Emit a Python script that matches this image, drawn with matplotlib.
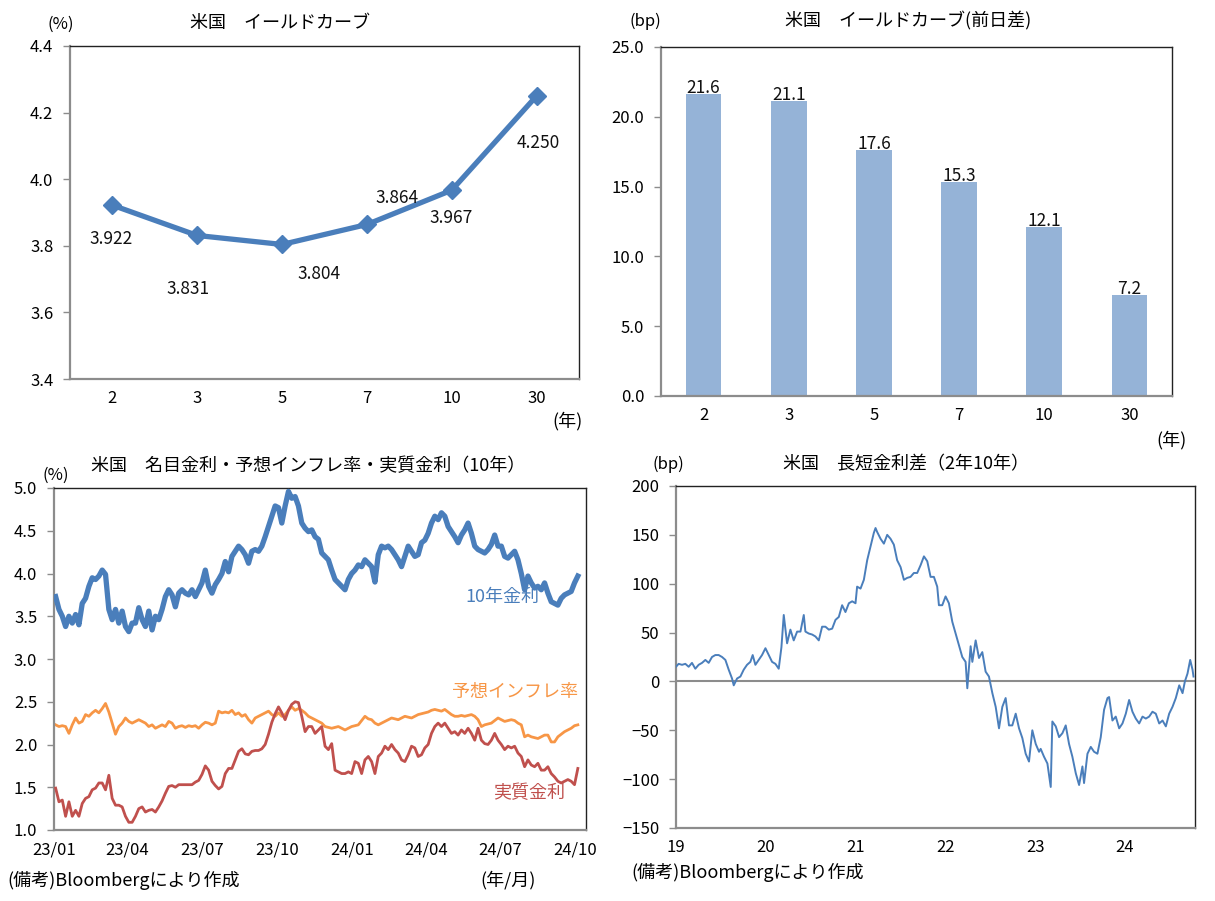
import numpy as np
import pandas as pd
import matplotlib
matplotlib.use("Agg")
import matplotlib.pyplot as plt
from matplotlib.ticker import FormatStrFormatter, MultipleLocator

plt.rcParams['font.family'] = ['Noto Sans CJK JP', 'DejaVu Sans']

# ---------------- data ----------------
maturities = ['2', '3', '5', '7', '10', '30']
yields = [3.922, 3.831, 3.804, 3.864, 3.967, 4.250]
yield_labels = ['3.922', '3.831', '3.804', '3.864', '3.967', '4.250']
daily_change = [21.6, 21.1, 17.6, 15.3, 12.1, 7.2]

rate_start = '2023-01-03'
rate_end = '2024-10-04'
nominal_10y = [
    3.73, 3.58, 3.50, 3.38, 3.50, 3.42, 3.52, 3.40, 3.65, 3.71,
    3.85, 3.95, 3.93, 3.97, 4.04, 3.99, 3.58, 3.46, 3.58, 3.42,
    3.56, 3.38, 3.32, 3.42, 3.42, 3.60, 3.46, 3.38, 3.56, 3.34,
    3.50, 3.46, 3.58, 3.73, 3.81, 3.75, 3.61, 3.77, 3.81, 3.77,
    3.75, 3.81, 3.73, 3.81, 3.89, 4.04, 3.85, 3.77, 3.87, 3.93,
    4.00, 4.14, 4.02, 4.20, 4.26, 4.32, 4.28, 4.22, 4.12, 4.26,
    4.28, 4.26, 4.32, 4.43, 4.55, 4.67, 4.79, 4.77, 4.59, 4.79,
    4.96, 4.88, 4.90, 4.79, 4.59, 4.53, 4.49, 4.51, 4.43, 4.40,
    4.24,
    4.20, 4.16, 4.04, 3.93, 3.89, 3.85, 3.81, 3.93, 4.00, 4.04,
    4.10, 4.08, 4.16, 4.12, 4.08, 3.90, 4.22, 4.32, 4.30, 4.32,
    4.28, 4.22, 4.16, 4.08, 4.20, 4.32, 4.26, 4.20, 4.22, 4.36,
    4.39, 4.47, 4.59, 4.67, 4.63, 4.71, 4.67, 4.55, 4.49, 4.43,
    4.36, 4.45, 4.51, 4.59, 4.47, 4.32, 4.28, 4.26, 4.24, 4.28,
    4.34, 4.45, 4.32, 4.32, 4.20, 4.18, 4.22, 4.26, 4.16, 4.00,
    3.81, 3.97, 3.89, 3.83, 3.85, 3.81, 3.89, 3.77, 3.67, 3.65,
    3.63, 3.71, 3.75, 3.77, 3.79, 3.89, 3.97,
]
breakeven = [
    2.23, 2.21, 2.22, 2.21, 2.13, 2.23, 2.31, 2.25, 2.27, 2.35,
    2.33, 2.37, 2.40, 2.37, 2.42, 2.48, 2.38, 2.25, 2.12, 2.21,
    2.25, 2.31, 2.27, 2.25, 2.27, 2.29, 2.27, 2.25, 2.21, 2.23,
    2.19, 2.21, 2.23, 2.21, 2.27, 2.25, 2.19, 2.21, 2.22, 2.20,
    2.22, 2.21, 2.22, 2.19, 2.23, 2.26, 2.25, 2.23, 2.25, 2.39,
    2.37, 2.38, 2.37, 2.40, 2.35, 2.37, 2.33, 2.35, 2.29, 2.25,
    2.31, 2.33, 2.35, 2.37, 2.39, 2.35, 2.33, 2.37, 2.33, 2.35,
    2.40, 2.44, 2.40, 2.42, 2.40, 2.37, 2.33, 2.31, 2.29, 2.27,
    2.25,
    2.21, 2.20, 2.19, 2.20, 2.21, 2.19, 2.17, 2.19, 2.21, 2.22,
    2.23, 2.28, 2.33, 2.30, 2.29, 2.25, 2.23, 2.25, 2.27, 2.29,
    2.31, 2.30, 2.29, 2.31, 2.33, 2.32, 2.31, 2.33, 2.35, 2.36,
    2.37, 2.38, 2.40, 2.41, 2.40, 2.39, 2.41, 2.38, 2.35, 2.33,
    2.33, 2.34, 2.33, 2.34, 2.35, 2.33, 2.29, 2.21, 2.23, 2.24,
    2.25, 2.28, 2.31, 2.29, 2.27, 2.28, 2.29, 2.28, 2.25, 2.23,
    2.09, 2.11, 2.09, 2.08, 2.07, 2.09, 2.11, 2.11, 2.03, 2.03,
    2.09, 2.12, 2.15, 2.17, 2.19, 2.22, 2.23,
]
real_rate = [
    1.49, 1.33, 1.35, 1.16, 1.33, 1.16, 1.23, 1.16, 1.31, 1.37,
    1.39, 1.47, 1.49, 1.55, 1.55, 1.47, 1.64, 1.37, 1.29, 1.29,
    1.27, 1.16, 1.09, 1.09, 1.16, 1.25, 1.27, 1.21, 1.23, 1.24,
    1.21, 1.27, 1.34, 1.43, 1.51, 1.52, 1.50, 1.53, 1.53, 1.53,
    1.53, 1.53, 1.56, 1.58, 1.65, 1.75, 1.70, 1.57, 1.52, 1.48,
    1.51, 1.66, 1.72, 1.72, 1.82, 1.92, 1.95, 1.89, 1.88, 1.92,
    1.93, 1.93, 1.95, 2.00, 2.12, 2.26, 2.36, 2.44, 2.37, 2.29,
    2.40, 2.47, 2.50, 2.49, 2.33, 2.15, 2.21, 2.21, 2.13, 2.17,
    2.21,
    1.98, 1.94, 2.01, 1.70, 1.68, 1.66, 1.66, 1.68, 1.66, 1.80,
    1.78, 1.66, 1.82, 1.86, 1.80, 1.66, 1.86, 1.90, 1.98, 1.94,
    2.00, 1.94, 1.90, 1.82, 1.80, 1.88, 1.98, 1.96, 1.86, 1.88,
    1.96, 2.00, 2.13, 2.21, 2.25, 2.21, 2.25, 2.19, 2.13, 2.15,
    2.11, 2.17, 2.13, 2.19, 2.13, 2.05, 2.19, 2.05, 2.01, 2.00,
    2.05, 2.13, 2.05, 2.00, 1.94, 1.98, 1.96, 1.98, 1.90, 1.86,
    1.74, 1.82, 1.76, 1.74, 1.78, 1.70, 1.70, 1.74, 1.66, 1.62,
    1.57, 1.55, 1.57, 1.59, 1.57, 1.53, 1.72,
]

spread_time = [
    2019.000, 2019.029, 2019.067, 2019.104, 2019.141, 2019.178, 2019.215, 2019.252,
    2019.290, 2019.327, 2019.364, 2019.401, 2019.438, 2019.475, 2019.513, 2019.550,
    2019.587, 2019.624, 2019.643, 2019.680, 2019.717, 2019.754, 2019.791, 2019.828,
    2019.854, 2019.884, 2019.921, 2019.958, 2019.996, 2020.033, 2020.070, 2020.107,
    2020.144, 2020.174, 2020.200, 2020.237, 2020.274, 2020.311, 2020.349, 2020.386,
    2020.423, 2020.441, 2020.479, 2020.516, 2020.553, 2020.590, 2020.627, 2020.664,
    2020.702, 2020.739, 2020.776, 2020.813, 2020.850, 2020.887, 2020.925, 2020.962,
    2020.999, 2021.017, 2021.055, 2021.092, 2021.129, 2021.166, 2021.203, 2021.222,
    2021.240, 2021.278, 2021.315, 2021.352, 2021.389, 2021.426, 2021.463, 2021.501,
    2021.538, 2021.575, 2021.612, 2021.649, 2021.686, 2021.724, 2021.761, 2021.798,
    2021.835, 2021.872, 2021.909, 2021.928, 2021.965, 2022.002, 2022.039, 2022.077,
    2022.114, 2022.151, 2022.188, 2022.225, 2022.244, 2022.281, 2022.300, 2022.337,
    2022.374, 2022.411, 2022.448, 2022.485, 2022.523, 2022.560, 2022.597, 2022.634,
    2022.671, 2022.708, 2022.745, 2022.783, 2022.820, 2022.857, 2022.894, 2022.931,
    2022.968, 2023.006, 2023.043, 2023.061, 2023.098, 2023.136, 2023.173, 2023.191,
    2023.229, 2023.266, 2023.303, 2023.340, 2023.377, 2023.414, 2023.452, 2023.489,
    2023.526, 2023.544, 2023.582, 2023.619, 2023.656, 2023.693, 2023.730, 2023.767,
    2023.805, 2023.823, 2023.860, 2023.897, 2023.935, 2023.972, 2024.009, 2024.046,
    2024.083, 2024.120, 2024.158, 2024.195, 2024.232, 2024.269, 2024.306, 2024.343,
    2024.381, 2024.418, 2024.455, 2024.492, 2024.529, 2024.566, 2024.604, 2024.641,
    2024.667, 2024.696, 2024.726, 2024.752, 2024.763,
]
spread_bp = [
    15, 18, 17, 18, 15, 19, 13, 17,
    19, 22, 19, 25, 27, 27, 25, 22,
    12, 3, -4, 3, 5, 12, 17, 20,
    27, 17, 22, 27, 34, 27, 20, 18,
    13, 35, 68, 39, 53, 42, 51, 51,
    68, 51, 49, 48, 46, 42, 56, 56,
    53, 54, 63, 66, 78, 71, 80, 82,
    80, 97, 95, 104, 124, 138, 152, 157,
    153, 146, 141, 150, 146, 140, 124, 117,
    104, 106, 107, 111, 111, 119, 128, 123,
    107, 107, 97, 78, 78, 87, 80, 61,
    49, 37, 25, 20, -7, 36, 20, 42,
    24, 30, 10, 5, -12, -26, -48, -26,
    -17, -45, -45, -33, -48, -58, -74, -82,
    -50, -64, -72, -69, -77, -84, -108, -41,
    -46, -57, -53, -45, -64, -77, -94, -106,
    -87, -104, -74, -67, -72, -74, -57, -29,
    -17, -16, -40, -36, -48, -43, -33, -19,
    -31, -38, -43, -36, -38, -36, -31, -33,
    -43, -40, -46, -33, -26, -17, -4, -12,
    0, 8, 22, 12, 5,
]

rate_month_ticks = ['23/01', '23/04', '23/07', '23/10', '24/01', '24/04', '24/07', '24/10']
spread_year_ticks = ['19', '20', '21', '22', '23', '24']

# ---------------- styling ----------------
W, H = 1215, 901
BLUE = '#4A7EBB'
BAR = '#95B3D7'
ORANGE = '#F79646'
RED = '#C0504D'
GREY = '#8C8C8C'
FS = 12      # numbers
FT = 13      # Japanese text

fig = plt.figure(figsize=(W / 100, H / 100), dpi=100)


def px_axes(l, t, r, b):
    return fig.add_axes([l / W, 1 - b / H, (r - l) / W, (b - t) / H])


def ftext(x, y, s, **kw):
    kw.setdefault('fontsize', FT)
    kw.setdefault('va', 'center')
    fig.text(x / W, 1 - y / H, s, **kw)


def style_frame(ax):
    for side in ('left', 'bottom'):
        ax.spines[side].set_color(GREY)
        ax.spines[side].set_linewidth(1.6)
    for side in ('top', 'right'):
        ax.spines[side].set_color('#222222')
        ax.spines[side].set_linewidth(1.0)
    ax.tick_params(axis='y', direction='out', length=5, width=1, color=GREY,
                   labelsize=FS, pad=7)
    ax.tick_params(axis='x', length=0, labelsize=FS, pad=8)


# ---- top-left: yield curve ----
ax1 = px_axes(70, 46, 579, 379)
xs = np.arange(len(maturities))
ax1.plot(xs, yields, color=BLUE, lw=3.8, marker='D', markersize=9,
         markerfacecolor=BLUE, markeredgecolor=BLUE, zorder=3)
ax1.set_xlim(-0.5, len(maturities) - 0.5)
ax1.set_ylim(3.4, 4.4)
ax1.yaxis.set_major_locator(MultipleLocator(0.2))
ax1.yaxis.set_major_formatter(FormatStrFormatter('%.1f'))
ax1.set_xticks(xs)
ax1.set_xticklabels(maturities)
style_frame(ax1)
label_offsets = [(-1, -34), (-9, -54), (37, -30), (30, 26), (-1, -28), (2, -47)]
for i, (v, lab) in enumerate(zip(yields, yield_labels)):
    dx, dy = label_offsets[i]
    ax1.annotate(lab, (i, v), xytext=(dx, dy), textcoords='offset pixels',
                 ha='center', va='center', fontsize=12.5, color='#111111')
ftext(280, 23, '米国　イールドカーブ', ha='center')
ftext(61, 24, '(%)', ha='center', fontsize=FS)
ftext(567, 421, '(年)', ha='center')

# ---- top-right: daily change bars ----
ax2 = px_axes(661, 47, 1172, 396)
ax2.bar(xs, daily_change, width=0.42, color=BAR, zorder=2)
ax2.set_xlim(-0.5, len(maturities) - 0.5)
ax2.set_ylim(0, 25)
ax2.yaxis.set_major_locator(MultipleLocator(5))
ax2.yaxis.set_major_formatter(FormatStrFormatter('%.1f'))
ax2.set_xticks(xs)
ax2.set_xticklabels(maturities)
style_frame(ax2)
for i, v in enumerate(daily_change):
    ax2.annotate(f'{v:.1f}', (i, v), xytext=(0, -3), textcoords='offset pixels',
                 ha='center', va='bottom', fontsize=12.5, color='#111111')
ftext(908, 21, '米国　イールドカーブ(前日差)', ha='center')
ftext(645, 21, '(bp)', ha='center', fontsize=FS)
ftext(1171, 440, '(年)', ha='center')

# ---- bottom-left: nominal / breakeven / real ----
ax3 = px_axes(54, 488, 586, 830)
rate_dates = pd.date_range(rate_start, rate_end, periods=len(nominal_10y))
ax3.plot(rate_dates, breakeven, color=ORANGE, lw=2.0, zorder=2)
ax3.plot(rate_dates, real_rate, color=RED, lw=2.0, zorder=3)
ax3.plot(rate_dates, nominal_10y, color=BLUE, lw=3.8, zorder=4)
ax3.set_xlim(pd.Timestamp('2023-01-01'), pd.Timestamp('2024-10-14'))
ax3.set_ylim(1.0, 5.0)
ax3.yaxis.set_major_locator(MultipleLocator(0.5))
ax3.yaxis.set_major_formatter(FormatStrFormatter('%.1f'))
tick_dates = pd.date_range('2023-01-01', periods=len(rate_month_ticks), freq='3MS')
ax3.set_xticks(tick_dates)
ax3.set_xticklabels(rate_month_ticks)
style_frame(ax3)
ftext(308, 466, '米国　名目金利・予想インフレ率・実質金利（10年）', ha='center')
ftext(56, 475, '(%)', ha='center', fontsize=FS)
ftext(502, 597, '10年金利', ha='center', color=BLUE)
ftext(515, 692, '予想インフレ率', ha='center', color=ORANGE)
ftext(529, 793, '実質金利', ha='center', color=RED)
ftext(7, 880, '(備考)Bloombergにより作成', ha='left')
ftext(508, 880, '(年/月)', ha='center')

# ---- bottom-right: 2s10s spread ----
ax4 = px_axes(676, 486, 1195, 828)
t = np.array(spread_time)
spread_dates = pd.Timestamp('2019-01-01') + pd.to_timedelta((t - 2019) * 365.25, unit='D')
ax4.axhline(0, color=GREY, lw=1.5, zorder=1)
ax4.plot(spread_dates, spread_bp, color=BLUE, lw=1.4, zorder=3)
ax4.set_xlim(pd.Timestamp('2019-01-01'), pd.Timestamp('2024-10-12'))
ax4.set_ylim(-150, 200)
ax4.yaxis.set_major_locator(MultipleLocator(50))
ax4.set_xticks(pd.date_range('2019-01-01', periods=len(spread_year_ticks), freq='YS'))
ax4.set_xticklabels(spread_year_ticks)
style_frame(ax4)
ftext(906, 464, '米国　長短金利差（2年10年）', ha='center')
ftext(668, 464, '(bp)', ha='center', fontsize=FS)
ftext(631, 872, '(備考)Bloombergにより作成', ha='left')

fig.savefig('out.png', dpi=100)
